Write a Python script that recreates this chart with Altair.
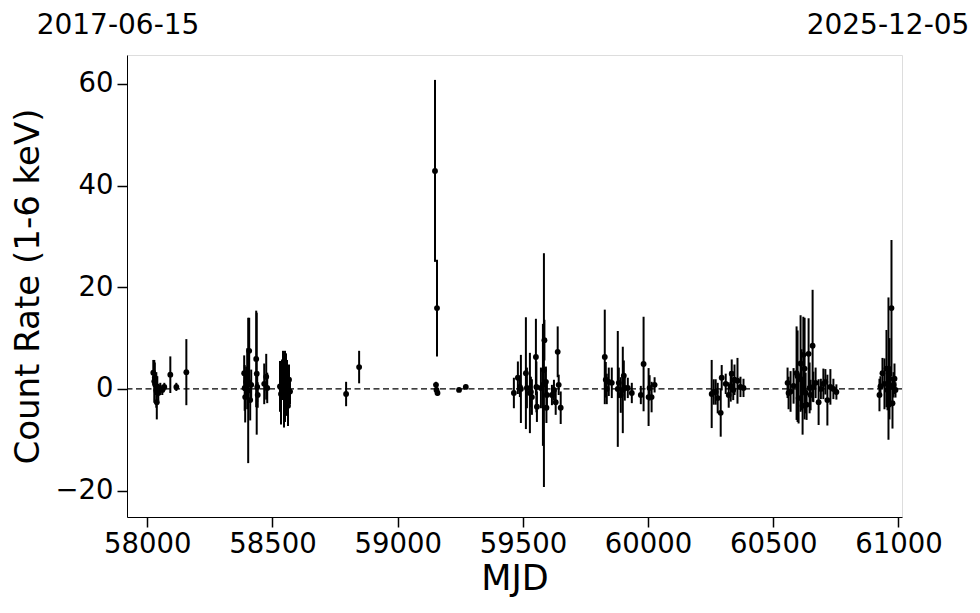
import altair as alt
import pandas as pd

# Observation times (MJD), count rates and 1-sigma errors
mjd = [
    58024, 58028, 58030, 58032, 58036, 58038, 58040, 58044, 58052, 58060, 58068, 58092, 58116, 58156,
    58387, 58389, 58391, 58395, 58399, 58403, 58407, 58411, 58415, 58435, 58437, 58439, 58441, 58467,
    58475, 58479, 58530, 58534, 58538, 58542, 58546, 58550, 58554, 58558, 58562, 58566, 58570,
    58794, 58846,
    59149, 59157, 59153, 59155, 59159, 59245, 59272,
    59464, 59480, 59488, 59492, 59512, 59516, 59528, 59532, 59536, 59552, 59554, 59556, 59572, 59580,
    59584, 59586, 59592, 59594, 59596, 59616, 59624, 59631, 59639, 59643, 59651,
    59827, 59831, 59835, 59843, 59855, 59879, 59883, 59891, 59899, 59903, 59907, 59919, 59935, 59971,
    59982, 60002, 60006, 60014, 60026,
    60254, 60262, 60270, 60278, 60290, 60294, 60310, 60322, 60330, 60334, 60340, 60345, 60357, 60369, 60381,
    60557, 60561, 60569, 60581, 60593, 60597, 60601, 60609, 60613, 60617, 60620, 60625, 60629, 60633,
    60641, 60645, 60649, 60657, 60660, 60669, 60681, 60690, 60700, 60708, 60716, 60728, 60740, 60752,
    60924, 60928, 60936, 60944, 60952, 60956, 60960, 60964, 60968, 60972, 60976, 60980, 60984, 60988,
]
rate = [
    3.2, 1.5, 2.2, 0.8, -0.2, -2.6, 0.5, -0.8, 0.0, -0.2, 0.4, 2.8, 0.4, 3.3,
    3.1, 0.2, -1.6, 1.4, 2.0, -0.3, 7.5, -2.2, 0.8, 5.9, 3.0, 0.4, -1.2, 1.0,
    2.4, 0.2, 0.5, -1.0, 1.8, 3.0, -1.6, 0.5, 2.0, 0.2, -3.3, 1.8, -0.5,
    -1.0, 4.3,
    42.9, 15.9, 0.8, -0.2, -0.8, -0.2, 0.4,
    -0.8, 2.2, 0.4, 0.0, 3.1, 0.2, -0.8, -0.6, -1.6, 6.3, 0.4, -3.5, 0.2, 0.8,
    3.7, 9.6, 1.4, -3.7, -1.2, -1.2, -0.2, -2.6, 7.3, 0.8, -3.7,
    6.3, 1.8, 0.0, 1.4, 1.2, 0.0, 1.2, -1.2, -0.2, 2.6, 0.2, 0.2, -0.8, -1.2,
    4.9, -1.6, 0.2, -1.6, 0.8,
    -1.0, -0.6, -0.6, -1.8, -4.7, 2.2, 1.0, -1.2, 0.5, 3.0, -0.2, 1.8, 1.6, 0.4, 0.2,
    1.2, -0.8, -0.5, 0.6, 3.1, 2.5, -1.8, 5.0, 1.8, -3.3, 6.7, 4.0, -0.8, -3.1,
    6.9, 0.2, -1.2, 8.5, 0.4, 1.2, -2.6, 0.0, 1.0, 1.4, -2.2, 0.4, 0.0, -0.6,
    -1.2, 0.5, 3.1, 1.0, 4.0, -0.2, 4.0, 2.0, 0.4, 15.9, -2.8, 0.8, 2.0, -0.2,
]
err = [
    2.5, 4.2, 3.0, 2.0, 3.5, 3.4, 2.0, 1.5, 1.2, 1.0, 0.8, 3.6, 0.8, 6.5,
    3.5, 4.5, 5.0, 3.0, 6.0, 14.3, 6.5, 4.0, 3.0, 9.5, 12.0, 3.0, 2.5, 4.0,
    4.5, 3.0, 5.0, 6.0, 4.0, 4.5, 6.0, 7.0, 5.0, 5.5, 4.0, 3.0, 2.5,
    2.4, 3.2,
    17.9, 9.5, 0.6, 0.5, 0.5, 0.4, 0.4,
    3.0, 3.2, 2.0, 6.7, 11.0, 4.0, 7.9, 3.0, 3.5, 7.5, 5.0, 3.0, 4.0, 12.0,
    23.0, 4.0, 3.0, 3.0, 2.5, 2.0, 2.0, 2.5, 5.0, 2.0, 3.2,
    9.3, 3.5, 3.0, 2.8, 3.0, 11.4, 3.0, 3.5, 8.5, 3.0, 2.5, 2.0, 2.0, 1.8,
    9.3, 5.7, 2.5, 3.0, 1.5,
    6.7, 2.5, 2.5, 3.0, 4.7, 2.5, 2.0, 2.5, 3.0, 2.8, 2.0, 3.0, 4.5, 2.0, 1.8,
    3.0, 3.2, 4.0, 3.5, 9.2, 9.0, 5.0, 9.5, 6.0, 5.7, 7.5, 10.0, 4.0, 3.0,
    7.0, 5.0, 3.0, 11.0, 3.0, 3.0, 4.5, 2.0, 3.0, 2.5, 5.0, 3.5, 2.0, 1.5,
    3.2, 2.0, 3.0, 5.0, 7.6, 4.0, 14.0, 8.0, 4.0, 13.4, 5.0, 2.5, 3.0, 1.5,
]

x_ticks = [58000, 58500, 59000, 59500, 60000, 60500, 61000]
y_ticks = [-20, 0, 20, 40, 60]
x_domain = [57919, 61014]
y_domain = [-25.2, 65.7]
date_labels = ["2017-06-15", "2025-12-05"]

df = pd.DataFrame({"mjd": mjd, "rate": rate, "err": err})
df["lo"] = df["rate"] - df["err"]
df["hi"] = df["rate"] + df["err"]

FONT = "DejaVu Sans"
W, H = 775, 462

xs = alt.Scale(domain=x_domain, nice=False, zero=False)
ys = alt.Scale(domain=y_domain, nice=False, zero=False)

xaxis = alt.Axis(values=x_ticks, format="d", grid=False, tickSize=10, tickWidth=1.5,
                 labelFontSize=27.5, labelFont=FONT, labelColor="black", tickColor="black",
                 domainColor="black", titleFont=FONT, titleFontSize=35, titleFontWeight="normal",
                 titleColor="black", labelPadding=3, titlePadding=4, labelFlush=False)
yaxis = alt.Axis(values=y_ticks, grid=False, tickSize=10, tickWidth=1.5,
                 labelFontSize=27.5, labelFont=FONT, labelColor="black", tickColor="black",
                 domainColor="black", titleFont=FONT, titleFontSize=34, titleFontWeight="normal",
                 titleColor="black", labelPadding=4, titlePadding=9, labelFlush=False)

base = alt.Chart(df)

bars = base.mark_rule(color="black", strokeWidth=2).encode(
    x=alt.X("mjd:Q", scale=xs, axis=xaxis, title="MJD"),
    y=alt.Y("lo:Q", scale=ys, axis=yaxis, title="Count Rate (1-6 keV)"),
    y2="hi:Q",
)

zero = alt.Chart(pd.DataFrame({"y0": [0]})).mark_rule(
    color="black", strokeWidth=1.4, strokeDash=[6, 3.5]
).encode(y=alt.Y("y0:Q", scale=ys))

pts = base.mark_circle(color="black", size=34, opacity=1).encode(
    x=alt.X("mjd:Q", scale=xs),
    y=alt.Y("rate:Q", scale=ys),
)

labels_df = pd.DataFrame({"label": date_labels})
left_lab = alt.Chart(labels_df.iloc[[0]]).mark_text(
    font=FONT, fontSize=28, color="black", align="center", baseline="alphabetic"
).encode(text="label:N", x=alt.value(-9), y=alt.value(-21))
right_lab = alt.Chart(labels_df.iloc[[1]]).mark_text(
    font=FONT, fontSize=28, color="black", align="center", baseline="alphabetic"
).encode(text="label:N", x=alt.value(761), y=alt.value(-21))

chart = alt.layer(zero, bars, pts, left_lab, right_lab).properties(
    width=W, height=H,
    autosize=alt.AutoSizeParams(type="none"),
    padding={"left": 119, "top": 47, "right": 70, "bottom": 80},
).configure_view(stroke="black", strokeWidth=1.5).configure(background="white")

chart.save("out.html", embed_options={"renderer": "svg", "actions": False})
